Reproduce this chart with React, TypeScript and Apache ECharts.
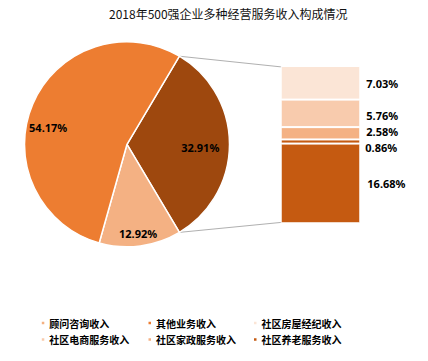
import React, { useEffect, useRef } from "react";
import * as echarts from "echarts";

const chartTitle = "2018年500强企业多种经营服务收入构成情况";

// Main pie (clockwise from the right-hand "other" slice)
const pieNames = ["社区服务收入", "顾问咨询收入", "其他业务收入"];
const pieValues = [32.91, 12.92, 54.17];
const pieColors = ["#9E480E", "#F4B183", "#ED7D31"];

// Secondary stacked bar (bottom to top)
const barNames = ["社区养老服务收入", "社区其他服务收入", "社区家政服务收入", "社区电商服务收入", "社区房屋经纪收入"];
const barValues = [16.68, 0.86, 2.58, 5.76, 7.03];
const barColors = ["#C55A11", "#C55A11", "#F4B183", "#F8CBAD", "#FBE5D6"];

// Legend columns
const legendCol1 = ["顾问咨询收入", "社区电商服务收入"];
const legendCol2 = ["其他业务收入", "社区家政服务收入"];
const legendCol3 = ["社区房屋经纪收入", "社区养老服务收入"];

const pieLabelOffsets = [[19, 3], [4, 35.5], [-29, 5]];
const barLabelOffsets = [[1, 0], [-1, 5.8], [0, -1.8], [0, 2], [0, 1]];

const W = 428;
const H = 361;
const PIE_CX = 127;
const PIE_CY = 144.3;
const PIE_R = 102.5;
const GRID_LEFT = 280.7;
const GRID_TOP = 66;
const GRID_W = 79.6;
const GRID_H = 157.3;

export default function App() {
  const ref = useRef<HTMLDivElement>(null);
  useEffect(() => {
    if (!ref.current) return;
    const chart = echarts.init(ref.current, null, { renderer: "svg" });
    const total = pieValues.reduce((a, b) => a + b, 0);
    const frac = pieValues[0] / total;
    const halfRad = frac * Math.PI;
    const startAngle = frac * 180;
    const px = PIE_CX + PIE_R * Math.cos(halfRad);
    const pyTop = PIE_CY - PIE_R * Math.sin(halfRad);
    const pyBot = PIE_CY + PIE_R * Math.sin(halfRad);

    const cjk = '"Noto Sans CJK SC", "Noto Sans", sans-serif';
    const num = '"Noto Sans", "Noto Sans CJK SC", sans-serif';

    const legendBase = {
      orient: "vertical" as const,
      top: 318,
      itemWidth: 4.5,
      itemHeight: 4.5,
      itemGap: 6.5,
      icon: "rect",
      padding: 0,
      selectedMode: false,
      textStyle: { fontSize: 10, fontWeight: "bold", color: "#000", fontFamily: cjk, padding: [0, 0, 0, -1] },
    };

    chart.setOption({
      animation: false,
      title: {
        text: chartTitle,
        left: 109,
        top: 7,
        padding: 0,
        textStyle: { fontSize: 12, fontWeight: "normal", color: "#111", fontFamily: cjk },
      },
      legend: [
        { ...legendBase, left: 39.8, data: legendCol1 },
        { ...legendBase, left: 146.5, data: legendCol2 },
        { ...legendBase, left: 252, data: legendCol3 },
      ],
      grid: { left: GRID_LEFT, top: GRID_TOP, width: GRID_W, height: GRID_H, containLabel: false },
      xAxis: { type: "category", data: ["细分"], show: false, boundaryGap: true },
      yAxis: { type: "value", min: 0, max: pieValues[0], show: false },
      graphic: [
        { type: "line", shape: { x1: px, y1: pyTop, x2: GRID_LEFT + 1.5, y2: GRID_TOP + 1 }, style: { stroke: "#B0B0B0", lineWidth: 1 }, silent: true },
        { type: "line", shape: { x1: px, y1: pyBot, x2: GRID_LEFT + 1.5, y2: GRID_TOP + GRID_H - 1 }, style: { stroke: "#B0B0B0", lineWidth: 1 }, silent: true },
      ],
      series: [
        {
          type: "pie",
          center: [PIE_CX, PIE_CY],
          radius: PIE_R,
          startAngle,
          clockwise: true,
          silent: true,
          avoidLabelOverlap: false,
          itemStyle: { borderColor: "#fff", borderWidth: 1.5 },
          label: {
            show: true,
            position: "inside",
            formatter: (p: any) => p.value.toFixed(2) + "%",
            fontSize: 11,
            fontWeight: "bold",
            color: "#000",
            fontFamily: num,
          },
          labelLine: { show: false },
          labelLayout: (p: any) => {
            const o = pieLabelOffsets[p.dataIndex] || [0, 0];
            return { dx: o[0], dy: o[1] };
          },
          data: pieNames.map((n, i) => ({ name: n, value: pieValues[i], itemStyle: { color: pieColors[i] } })),
        },
        ...barNames.map((n, i) => ({
          type: "bar",
          name: n,
          stack: "sub",
          barWidth: "100%",
          silent: true,
          itemStyle: { color: barColors[i], borderColor: "#fff", borderWidth: 1 },
          label: {
            show: true,
            position: "right",
            distance: 6,
            offset: barLabelOffsets[i],
            formatter: (p: any) => p.value.toFixed(2) + "%",
            fontSize: 11,
            lineHeight: 11,
            fontWeight: "bold",
            color: "#000",
            fontFamily: num,
          },
          data: [barValues[i]],
        })),
      ],
    });
    return () => chart.dispose();
  }, []);
  return <div ref={ref} style={{ position: "fixed", left: 0, top: 0, width: W, height: H, background: "#fff" }} />;
}
